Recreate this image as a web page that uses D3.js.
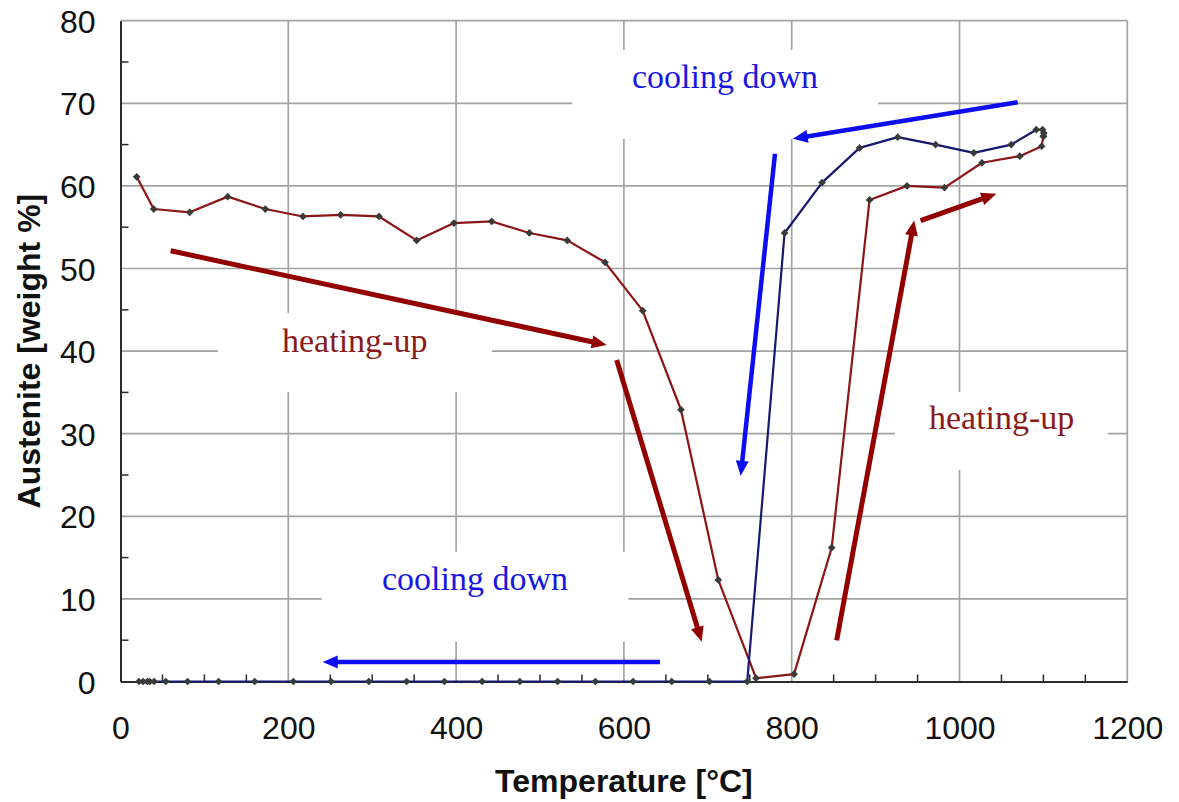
<!DOCTYPE html>
<html>
<head>
<meta charset="utf-8">
<script src="https://cdn.jsdelivr.net/npm/d3@7"></script>
<style>
  body { margin: 0; background: #fff; }
  svg { display: block; }
</style>
</head>
<body>
<svg id="chart" width="1179" height="802"></svg>
<script>
// Heating-up branch: temperature (°C) vs. austenite content (weight %)
const heatTemp = [19.3, 39.6, 82.5, 127.8, 172.6, 217.5, 262.4, 308.1, 353, 397.5, 442.4, 487.3,
                  532.5, 577.5, 622.4, 668, 712.5, 757.5, 802.8, 847.7, 892.8, 937.4, 982.1,
                  1026.8, 1071.9, 1097.9, 1100];
const heatAust = [61.1, 57.2, 56.8, 58.7, 57.2, 56.3, 56.5, 56.3, 53.4, 55.5, 55.7, 54.3,
                  53.4, 50.75, 44.9, 32.9, 12.3, 0.4, 0.9, 16.2, 58.3, 60.0, 59.8,
                  62.8, 63.6, 64.8, 66.0];

// Cooling-down branch
const coolTemp = [1100, 1100.5, 1099, 1091.5, 1061.7, 1017, 971.5, 926.4, 880.9, 836.2, 791.5,
                  747, 702, 657, 611, 566, 521, 476, 431, 386, 341, 296, 251, 206, 160, 117,
                  80, 54, 40, 35, 32, 27, 22];
const coolAust = [66.0, 66.4, 66.8, 66.8, 65.0, 64.0, 65.0, 65.9, 64.6, 60.4, 54.3,
                  0, 0, 0, 0, 0, 0, 0, 0, 0, 0, 0, 0, 0, 0, 0,
                  0, 0, 0, 0, 0, 0, 0];

// Axis ticks
const xTicks = [0, 200, 400, 600, 800, 1000, 1200];
const yTicks = [0, 10, 20, 30, 40, 50, 60, 70, 80];

const svg = d3.select("#chart");
const W = 1179, H = 802;
const m = { left: 120.5, right: 51.7, top: 20.7, bottom: 120.5 };

const x = d3.scaleLinear().domain([0, 1200]).range([m.left, W - m.right]);
const y = d3.scaleLinear().domain([0, 80]).range([H - m.bottom, m.top]);

const C = {
  grid: "#a3a3a3",
  axis: "#2b2b2b",
  heatLine: "#8c1515",
  coolLine: "#18186e",
  heatArrow: "#930000",
  coolArrow: "#0d0df2",
  heatText: "#8b1a1a",
  coolText: "#1818e0",
  marker: "#3a3a3a"
};

svg.append("rect").attr("width", W).attr("height", H).attr("fill", "#fff");

// Grid lines (major ticks, including the top and right frame)
const grid = svg.append("g");
grid.selectAll("line.gx").data(xTicks.filter(d => d > 0)).join("line")
  .attr("x1", d => x(d)).attr("x2", d => x(d))
  .attr("y1", y(0)).attr("y2", y(80))
  .attr("stroke", C.grid).attr("stroke-width", 1.7);
grid.selectAll("line.gy").data(yTicks.filter(d => d > 0)).join("line")
  .attr("x1", x(0)).attr("x2", x(1200))
  .attr("y1", d => y(d)).attr("y2", d => y(d))
  .attr("stroke", C.grid).attr("stroke-width", 1.7);

// Annotation labels sit in white frames that mask the grid behind them
const labels = [
  { text: "cooling down", color: C.coolText, t: 609.7, a: 71.85, box: [538.4, 903, 76.45, 65.68] },
  { text: "heating-up",   color: C.heatText, t: 192.5, a: 39.9,  box: [116.2, 442.8, 44.6, 35.05] },
  { text: "cooling down", color: C.coolText, t: 311.7, a: 11.08, box: [239.8, 605.2, 15.71, 4.82] },
  { text: "heating-up",   color: C.heatText, t: 963.6, a: 30.53, box: [923.1, 1177, 35.05, 25.6] }
];
svg.append("g").selectAll("rect").data(labels).join("rect")
  .attr("x", d => x(d.box[0])).attr("y", d => y(d.box[2]))
  .attr("width", d => x(d.box[1]) - x(d.box[0]))
  .attr("height", d => y(d.box[3]) - y(d.box[2]))
  .attr("fill", "#fff");

// Minor ticks pointing into the plot
const minorX = d3.range(50, 1200, 50).filter(d => d % 200 !== 0);
const minorY = d3.range(5, 80, 5).filter(d => d % 10 !== 0);
const ticks = svg.append("g").attr("stroke", C.axis).attr("stroke-width", 1.5);
ticks.selectAll("line.mx").data(minorX).join("line")
  .attr("x1", d => x(d)).attr("x2", d => x(d))
  .attr("y1", y(0)).attr("y2", y(0) - 7);
ticks.selectAll("line.my").data(minorY).join("line")
  .attr("x1", x(0)).attr("x2", x(0) + 8)
  .attr("y1", d => y(d)).attr("y2", d => y(d));

// Axis lines and tick labels
const xAxis = d3.axisBottom(x).tickValues(xTicks).tickFormat(d3.format("d")).tickSize(0).tickPadding(0);
const yAxis = d3.axisLeft(y).tickValues(yTicks).tickFormat(d3.format("d")).tickSize(0).tickPadding(0);

const gx = svg.append("g").attr("transform", `translate(0,${y(0)})`).call(xAxis);
gx.select(".domain").attr("stroke", C.axis).attr("stroke-width", 2);
gx.selectAll("text")
  .attr("font-family", "'Liberation Sans', Arial, sans-serif")
  .attr("font-size", 32).attr("fill", "#111")
  .attr("y", 57.5).attr("dy", null);

const gy = svg.append("g").attr("transform", `translate(${x(0)},0)`).call(yAxis);
gy.select(".domain").attr("stroke", C.axis).attr("stroke-width", 2);
gy.selectAll("text")
  .attr("font-family", "'Liberation Sans', Arial, sans-serif")
  .attr("font-size", 32).attr("fill", "#111")
  .attr("x", -25).attr("dy", "0.36em");

// Axis titles
svg.append("text")
  .attr("x", (x(0) + x(1200)) / 2).attr("y", 792)
  .attr("text-anchor", "middle")
  .attr("font-family", "'Liberation Sans', Arial, sans-serif")
  .attr("font-weight", "bold").attr("font-size", 32).attr("fill", "#111")
  .text("Temperature [°C]");
svg.append("text")
  .attr("transform", `translate(40,${(y(0) + y(80)) / 2}) rotate(-90)`)
  .attr("text-anchor", "middle")
  .attr("font-family", "'Liberation Sans', Arial, sans-serif")
  .attr("font-weight", "bold").attr("font-size", 32).attr("fill", "#111")
  .text("Austenite [weight %]");

// Measured curves
const heat = heatTemp.map((t, i) => [t, heatAust[i]]);
const cool = coolTemp.map((t, i) => [t, coolAust[i]]);
const line = d3.line().x(d => x(d[0])).y(d => y(d[1]));

svg.append("path").datum(heat).attr("d", line)
  .attr("fill", "none").attr("stroke", C.heatLine).attr("stroke-width", 2.2)
  .attr("stroke-linejoin", "round");
svg.append("path").datum(cool).attr("d", line)
  .attr("fill", "none").attr("stroke", C.coolLine).attr("stroke-width", 2.2)
  .attr("stroke-linejoin", "round");

// Data point markers: small square diamonds
const sym = d3.symbol().type(d3.symbolSquare).size(30);
svg.append("g").selectAll("path").data(heat.concat(cool)).join("path")
  .attr("d", sym)
  .attr("transform", d => `translate(${x(d[0])},${y(d[1])}) rotate(45)`)
  .attr("fill", C.marker);

// Direction arrows
const arrows = [
  { from: [59.8, 52.15],  to: [579.5, 40.74], color: C.heatArrow, w: 5 },
  { from: [591.4, 38.92], to: [692.7, 4.82],  color: C.heatArrow, w: 5 },
  { from: [643, 2.36],    to: [241, 2.36],    color: C.coolArrow, w: 4.5 },
  { from: [780.1, 63.9],  to: [739.2, 24.9],  color: C.coolArrow, w: 4.5 },
  { from: [1069.4, 70.12], to: [801.3, 65.7], color: C.coolArrow, w: 4.5 },
  { from: [853.6, 4.98],  to: [946, 55.8],    color: C.heatArrow, w: 5 },
  { from: [953.6, 55.8],  to: [1043.8, 59.05], color: C.heatArrow, w: 5 }
];
const ga = svg.append("g");
arrows.forEach(a => {
  const x0 = x(a.from[0]), y0 = y(a.from[1]);
  const x1 = x(a.to[0]), y1 = y(a.to[1]);
  const len = Math.hypot(x1 - x0, y1 - y0);
  const ux = (x1 - x0) / len, uy = (y1 - y0) / len;
  const hl = 15, hw = 6.5;
  const bx = x1 - ux * hl, by = y1 - uy * hl;
  ga.append("line")
    .attr("x1", x0).attr("y1", y0)
    .attr("x2", x1 - ux * (hl - 2)).attr("y2", y1 - uy * (hl - 2))
    .attr("stroke", a.color).attr("stroke-width", a.w);
  ga.append("path")
    .attr("d", `M${x1},${y1}L${bx - uy * hw},${by + ux * hw}L${bx + uy * hw},${by - ux * hw}Z`)
    .attr("fill", a.color);
});

// Label text
svg.append("g").selectAll("text").data(labels).join("text")
  .attr("x", d => x(d.t)).attr("y", d => y(d.a))
  .attr("font-family", "'Liberation Serif', 'Times New Roman', serif")
  .attr("font-size", 34)
  .attr("fill", d => d.color)
  .text(d => d.text);
</script>
</body>
</html>
